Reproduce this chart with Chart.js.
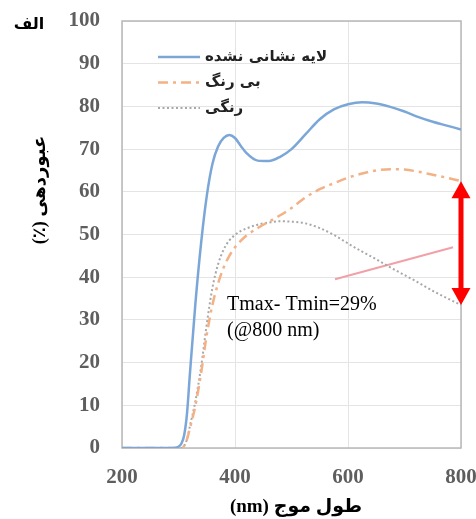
<!DOCTYPE html>
<html><head><meta charset="utf-8">
<script src="https://cdn.jsdelivr.net/npm/chart.js@4/dist/chart.umd.min.js"></script>
<style>html,body{margin:0;padding:0;background:#fff;overflow:hidden}</style>
</head><body>
<canvas id="c" width="476" height="519"></canvas>
<script>
// Transmittance spectra (%), wavelength in nm
const wavelengths = [200, 250, 290, 300, 305, 310, 315, 320, 330, 340,
                     350, 360, 370, 380, 390, 400, 410, 420, 440, 460,
                     480, 500, 525, 550, 575, 600, 625, 650, 675, 700,
                     725, 750, 775, 800];
const uncoated  = [0, 0, 0, 0.3, 1, 3, 8, 17, 34, 48,
                   59, 66.5, 70.6, 72.6, 73.3, 72.6, 70.8, 69.1, 67.3, 67.2,
                   68.2, 70, 73.5, 77, 79.3, 80.5, 81, 80.7, 79.9, 78.8,
                   77.5, 76.4, 75.5, 74.6];
const colorless = [0, 0, 0, 0, 0, 0.5, 2, 4.5, 10, 17.5,
                   26.5, 33.5, 38.5, 42.3, 45, 47, 48.5, 49.7, 51.5, 53,
                   54.5, 56.2, 58.7, 60.6, 62, 63.3, 64.3, 65, 65.3, 65.2,
                   64.7, 64, 63.3, 62.5];
const colored   = [0, 0, 0, 0, 0, 0.5, 2, 5, 11, 19,
                   29, 37.5, 43, 46.5, 48.6, 49.9, 50.8, 51.4, 52.3, 52.8,
                   53.1, 53, 52.6, 51.5, 49.9, 47.9, 46, 44.2, 42.3, 40.5,
                   38.7, 36.8, 35.1, 33.5];
const seriesNames = ['لایه نشانی نشده', 'بی رنگ', 'رنگی'];

// pointer line from the note towards the arrow
const pointerX = [577, 786];
const pointerY = [39.5, 47];

const xTickValues = [200, 400, 600, 800];
const yTickValues = [0, 10, 20, 30, 40, 50, 60, 70, 80, 90, 100];

const panelLabel = 'الف';
const yTitle = 'عبوردهی (٪)';
const xTitle = 'طول موج (nm)';

const lastIdx = wavelengths.length - 1;
const tMax = colorless[lastIdx];
const tMin = colored[lastIdx];
const noteLines = ['Tmax- Tmin=' + Math.round(tMax - tMin) + '%', '(@' + wavelengths[lastIdx] + ' nm)'];

const toXY = (ys) => ys.map((y, i) => ({x: wavelengths[i], y}));

const decor = {
  id: 'decor',
  beforeDatasetsDraw(chart) {
    const {ctx, chartArea: a} = chart;
    ctx.save();
    ctx.strokeStyle = '#b8b8b8';
    ctx.lineWidth = 1.5;
    ctx.strokeRect(a.left, a.top, a.right - a.left, a.bottom - a.top);
    ctx.restore();
  },
  afterDatasetsDraw(chart) {
    const {ctx, chartArea: a, scales: {x, y}} = chart;
    ctx.save();
    // double-headed arrow between the two coated spectra at the last wavelength
    const ax = x.getPixelForValue(wavelengths[lastIdx]);
    const yTop = y.getPixelForValue(tMax);
    const yBot = y.getPixelForValue(tMin);
    const headL = 17, headW = 9.5;
    ctx.strokeStyle = '#ff0000';
    ctx.fillStyle = '#ff0000';
    ctx.lineWidth = 5;
    ctx.beginPath();
    ctx.moveTo(ax, yTop + headL - 2);
    ctx.lineTo(ax, yBot - headL + 2);
    ctx.stroke();
    ctx.beginPath();
    ctx.moveTo(ax, yTop);
    ctx.lineTo(ax - headW, yTop + headL);
    ctx.lineTo(ax + headW, yTop + headL);
    ctx.closePath();
    ctx.fill();
    ctx.beginPath();
    ctx.moveTo(ax, yBot);
    ctx.lineTo(ax - headW, yBot - headL);
    ctx.lineTo(ax + headW, yBot - headL);
    ctx.closePath();
    ctx.fill();

    // note text
    ctx.fillStyle = '#000';
    ctx.font = '20px "Liberation Serif"';
    ctx.textAlign = 'left';
    ctx.textBaseline = 'middle';
    const nx = x.getPixelForValue(386);
    ctx.fillText(noteLines[0], nx, y.getPixelForValue(33.5));
    ctx.fillText(noteLines[1], nx, y.getPixelForValue(27.4));

    // legend
    const lx0 = a.left + 36, lx1 = a.left + 78, tx = a.left + 83;
    ctx.font = 'bold 15px "DejaVu Sans"';
    chart.data.datasets.slice(0, 3).forEach((ds, i) => {
      const ry = a.top + 36 + i * 25.5;
      ctx.strokeStyle = ds.borderColor;
      ctx.lineWidth = ds.borderWidth;
      ctx.setLineDash(ds.borderDash || []);
      ctx.beginPath();
      ctx.moveTo(lx0, ry);
      ctx.lineTo(lx1, ry);
      ctx.stroke();
      ctx.setLineDash([]);
      ctx.fillStyle = '#222';
      ctx.fillText(ds.label, tx, ry);
    });
    ctx.restore();
  },
  afterDraw(chart) {
    const {ctx} = chart;
    ctx.save();
    ctx.fillStyle = '#000';
    ctx.textAlign = 'center';
    ctx.textBaseline = 'middle';
    ctx.direction = 'rtl';
    ctx.font = 'bold 16px "DejaVu Sans"';
    ctx.fillText(panelLabel, 29, 25);
    ctx.font = 'bold 19px "Liberation Serif", "DejaVu Sans"';
    ctx.fillText(xTitle, 296, 507);
    ctx.translate(40, 190);
    ctx.rotate(-Math.PI / 2);
    ctx.font = 'bold 18px "Liberation Serif", "DejaVu Sans"';
    ctx.fillText(yTitle, 0, 0);
    ctx.restore();
  }
};

new Chart(document.getElementById('c'), {
  type: 'line',
  data: {
    datasets: [
      {label: seriesNames[0], data: toXY(uncoated), borderColor: '#7ba7d8', borderWidth: 2.5, borderDash: []},
      {label: seriesNames[1], data: toXY(colorless), borderColor: '#f3b185', borderWidth: 2.5, borderDash: [10, 5, 3, 5]},
      {label: seriesNames[2], data: toXY(colored), borderColor: '#a8a8a8', borderWidth: 2, borderDash: [2, 2.5]},
      {label: 'pointer', data: pointerX.map((v, i) => ({x: v, y: pointerY[i]})), borderColor: '#f2a0a8', borderWidth: 2, cubicInterpolationMode: 'default', tension: 0}
    ]
  },
  options: {
    responsive: false,
    animation: false,
    layout: {padding: {left: 0, right: 15, top: 21, bottom: 0}},
    elements: {
      point: {radius: 0},
      line: {cubicInterpolationMode: 'monotone', fill: false}
    },
    plugins: {legend: {display: false}, tooltip: {enabled: false}},
    scales: {
      x: {
        type: 'linear', min: 200, max: 800,
        afterBuildTicks(s) { s.ticks = xTickValues.map(v => ({value: v})); },
        afterFit(s) { s.height = 71; s.paddingLeft = 0; s.paddingRight = 0; },
        grid: {color: '#e4e4e4', drawTicks: false},
        border: {display: false},
        ticks: {padding: 17, maxRotation: 0, color: '#5e5e5e', font: {family: 'Liberation Serif', size: 21, weight: 'bold'}}
      },
      y: {
        min: 0, max: 100,
        afterBuildTicks(s) { s.ticks = yTickValues.map(v => ({value: v})); },
        afterFit(s) { s.width = 122; s.paddingTop = 0; s.paddingBottom = 0; },
        grid: {color: '#e4e4e4', drawTicks: false},
        border: {display: false},
        ticks: {padding: 22, color: '#5e5e5e', font: {family: 'Liberation Serif', size: 21, weight: 'bold'}}
      }
    }
  },
  plugins: [decor]
});
</script>
</body></html>
